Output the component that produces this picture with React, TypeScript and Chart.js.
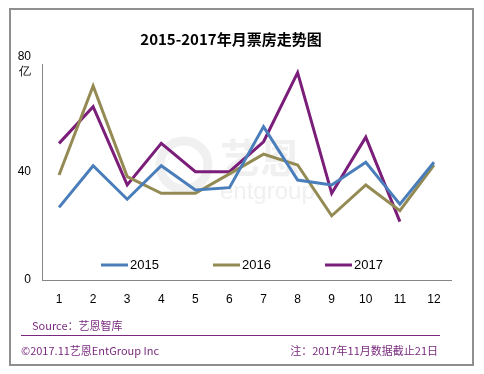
import React, { useEffect, useRef } from "react";
import { Chart, registerables } from "chart.js";

Chart.register(...registerables);

const months = ["1", "2", "3", "4", "5", "6", "7", "8", "9", "10", "11", "12"];
const seriesNames = ["2015", "2016", "2017"];
const box2015 = [26.9, 42.3, 29.9, 42.3, 33.3, 34.2, 56.8, 37.0, 35.2, 43.6, 28.1, 43.6];
const box2016 = [38.9, 71.9, 38.3, 32.1, 32.1, 39.3, 46.6, 42.6, 23.8, 35.2, 25.7, 42.6];
const box2017 = [50.6, 64.2, 35.2, 50.6, 40.1, 40.1, 51.2, 76.8, 32.1, 52.9, 21.6, null];
const yTicks = [0, 40, 80];

const titleText = "2015-2017年月票房走势图";
const sourceText = "Source：艺恩智库";
const copyrightText = "©2017.11艺恩EntGroup Inc";
const noteText = "注：2017年11月数据截止21日";

const colors = ["#4a7ebb", "#948a54", "#7b1e7a"];
const purple = "#7a2a7e";
const CJK = '"Noto Sans CJK SC", "Liberation Sans", sans-serif';
const LAT = '"Liberation Sans", Arial, sans-serif';

const decor = {
  id: "decor",
  beforeDraw(chart: any) {
    const ctx = chart.ctx;
    ctx.save();
    ctx.fillStyle = "#ffffff";
    ctx.fillRect(0, 0, chart.width, chart.height);
    // outer border
    ctx.strokeStyle = "#8f8f8f";
    ctx.lineWidth = 2;
    ctx.strokeRect(10, 9, 463, 356);
    // watermark
    ctx.fillStyle = "#f0f0f0";
    ctx.strokeStyle = "#f0f0f0";
    ctx.lineWidth = 9;
    ctx.beginPath();
    ctx.arc(184, 165, 24, 0, Math.PI * 2);
    ctx.stroke();
    ctx.font = 'bold 40px ' + CJK;
    ctx.textBaseline = "middle";
    ctx.textAlign = "left";
    ctx.fillText("艺恩", 220, 158);
    ctx.font = '24px ' + LAT;
    ctx.fillText("entgroup", 220, 192);
    // title
    ctx.fillStyle = "#000000";
    ctx.font = "bold 15px " + CJK;
    ctx.textAlign = "center";
    ctx.fillText(titleText, 231, 39);
    // footer
    ctx.fillStyle = purple;
    ctx.font = "11px " + CJK;
    ctx.textAlign = "left";
    ctx.fillText(sourceText, 32, 326);
    ctx.fillText(copyrightText, 21, 351);
    ctx.textAlign = "right";
    ctx.fillText(noteText, 438, 351);
    ctx.strokeStyle = purple;
    ctx.lineWidth = 1;
    ctx.beginPath();
    ctx.moveTo(21, 335.5);
    ctx.lineTo(440, 335.5);
    ctx.stroke();
    ctx.restore();
  },
  afterDatasetsDraw(chart: any) {
    const ctx = chart.ctx;
    ctx.save();
    const starts = [101, 213, 325];
    ctx.font = "13px " + LAT;
    ctx.textBaseline = "middle";
    ctx.textAlign = "left";
    chart.data.datasets.forEach((ds: any, i: number) => {
      const x = starts[i];
      ctx.strokeStyle = ds.borderColor;
      ctx.lineWidth = 3;
      ctx.beginPath();
      ctx.moveTo(x, 265);
      ctx.lineTo(x + 27, 265);
      ctx.stroke();
      ctx.fillStyle = "#000000";
      ctx.fillText(ds.label, x + 29, 265);
    });
    ctx.restore();
  },
};

export default function App() {
  const ref = useRef<HTMLCanvasElement | null>(null);
  useEffect(() => {
    if (!ref.current) return;
    const chart = new Chart(ref.current, {
      type: "line",
      data: {
        labels: months,
        datasets: [box2015, box2016, box2017].map((d, i) => ({
          label: seriesNames[i],
          data: d,
          borderColor: colors[i],
          backgroundColor: colors[i],
          borderWidth: 3,
          pointRadius: 0,
          tension: 0,
          fill: false,
        })),
      },
      options: {
        responsive: false,
        animation: false,
        layout: { padding: { top: 64, right: 33, bottom: 64, left: 0 } },
        plugins: { legend: { display: false }, title: { display: false }, tooltip: { enabled: false } },
        scales: {
          x: {
            type: "category",
            offset: true,
            grid: { display: false, drawTicks: false },
            border: { display: true, color: "#868686", width: 1 },
            ticks: { color: "#000000", font: { size: 12, family: LAT }, padding: 12, maxRotation: 0, autoSkip: false },
            afterFit: (s: any) => { s.height = 30; },
          },
          y: {
            min: 0,
            max: 80,
            afterBuildTicks: (s: any) => { s.ticks = yTicks.map((v) => ({ value: v })); },
            grid: { display: false, drawTicks: false },
            border: { display: true, color: "#868686", width: 1 },
            ticks: {
              color: "#000000",
              font: { size: 12, family: LAT, lineHeight: 1.25 },
              padding: 11,
              callback: (v: any) => (v === 80 ? ["80", "亿"] : String(v)),
            },
            afterFit: (s: any) => { s.width = 42; },
          },
        },
      },
      plugins: [decor],
    });
    return () => chart.destroy();
  }, []);
  return (
    <div style={{ position: "absolute", left: 0, top: 0, width: 484, height: 374 }}>
      <canvas ref={ref} width={484} height={374} />
    </div>
  );
}
